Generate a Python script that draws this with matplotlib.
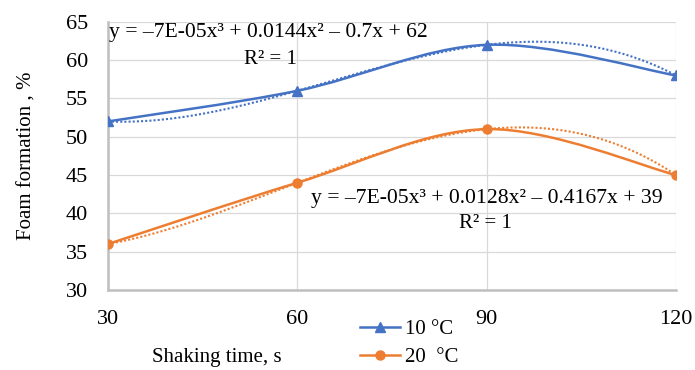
import numpy as np
import matplotlib
matplotlib.use("Agg")
import matplotlib.pyplot as plt
from matplotlib.path import Path
from matplotlib.patches import PathPatch
from matplotlib.lines import Line2D

plt.rcParams['font.family'] = ['Liberation Serif', 'DejaVu Serif']

# data
shaking_time = [30, 60, 90, 120]
foam_10 = [52, 56, 62, 58]
foam_20 = [36, 44, 51, 45]
eq_10 = "y = \u20137E-05x\u00b3 + 0.0144x\u00b2 \u2013 0.7x + 62"
eq_20 = "y = \u20137E-05x\u00b3 + 0.0128x\u00b2 \u2013 0.4167x + 39"
yticks = [30, 35, 40, 45, 50, 55, 60, 65]

blue = '#4472C4'
orange = '#ED7D31'


def smooth_path(x, y):
    # excel style smoothed line: bezier segments with catmull-rom control points
    pts = np.column_stack([x, y]).astype(float)
    n = len(pts)
    verts = [pts[0]]
    codes = [Path.MOVETO]
    for i in range(n - 1):
        p0 = pts[i - 1] if i > 0 else pts[i]
        p1 = pts[i]
        p2 = pts[i + 1]
        p3 = pts[i + 2] if i + 2 < n else pts[i + 1]
        c1 = p1 + (p2 - p0) / 6.0
        c2 = p2 - (p3 - p1) / 6.0
        verts += [c1, c2, p2]
        codes += [Path.CURVE4] * 3
    return Path(verts, codes)


fig = plt.figure(figsize=(6.95, 3.70), dpi=100)
ax = fig.add_axes([0.155, 0.216, 0.818, 0.725])

for yv, col, mk in [(foam_10, blue, '^'), (foam_20, orange, 'o')]:
    ax.add_patch(PathPatch(smooth_path(shaking_time, yv), facecolor='none',
                           edgecolor=col, lw=1.8, zorder=3))
    ax.plot(shaking_time, yv, linestyle='none', color=col, marker=mk,
            markersize=6.5, zorder=4)
    # cubic trendline
    coef = np.polyfit(shaking_time, yv, 3)
    xs = np.linspace(shaking_time[0], shaking_time[-1], 200)
    ax.plot(xs, np.polyval(coef, xs), linestyle=(0, (1, 1)), color=col, lw=1.5, zorder=2)

ax.set_xlim(30, 120)
ax.set_ylim(30, 65)
ax.set_xticks(shaking_time)
ax.set_yticks(yticks)
ax.grid(True, color='#d9d9d9', lw=0.9)
ax.set_axisbelow(True)
for s in ['top', 'right']:
    ax.spines[s].set_visible(False)
for s in ['left', 'bottom']:
    ax.spines[s].set_color('#bfbfbf')
    ax.spines[s].set_linewidth(1.8)
ax.tick_params(length=0, labelsize=16, colors='black')
ax.tick_params(axis='y', pad=14)
ax.tick_params(axis='x', pad=14)

ax.set_ylabel('Foam formation , %', fontsize=15, labelpad=21)
fig.text(0.312, 0.034, 'Shaking time, s', fontsize=15, ha='center', va='center')

ax.text(0.003, 0.997, eq_10, transform=ax.transAxes, fontsize=15.6, va='top', ha='left')
ax.text(0.287, 0.895, 'R\u00b2 = 1', transform=ax.transAxes, fontsize=15, va='top', ha='center')
ax.text(0.358, 0.375, eq_20, transform=ax.transAxes, fontsize=15.6, va='top', ha='left')
ax.text(0.664, 0.285, 'R\u00b2 = 1', transform=ax.transAxes, fontsize=15, va='top', ha='center')

handles = [Line2D([], [], color=blue, marker='^', markersize=6.5, lw=1.8),
           Line2D([], [], color=orange, marker='o', markersize=6.5, lw=1.8)]
fig.legend(handles, ['10 \u00b0C', '20  \u00b0C'], loc='center', bbox_to_anchor=(0.589, 0.072),
           frameon=False, fontsize=15, handlelength=1.9, handletextpad=0.25,
           labelspacing=0.4, borderpad=0)

fig.savefig('out.png', dpi=100)
